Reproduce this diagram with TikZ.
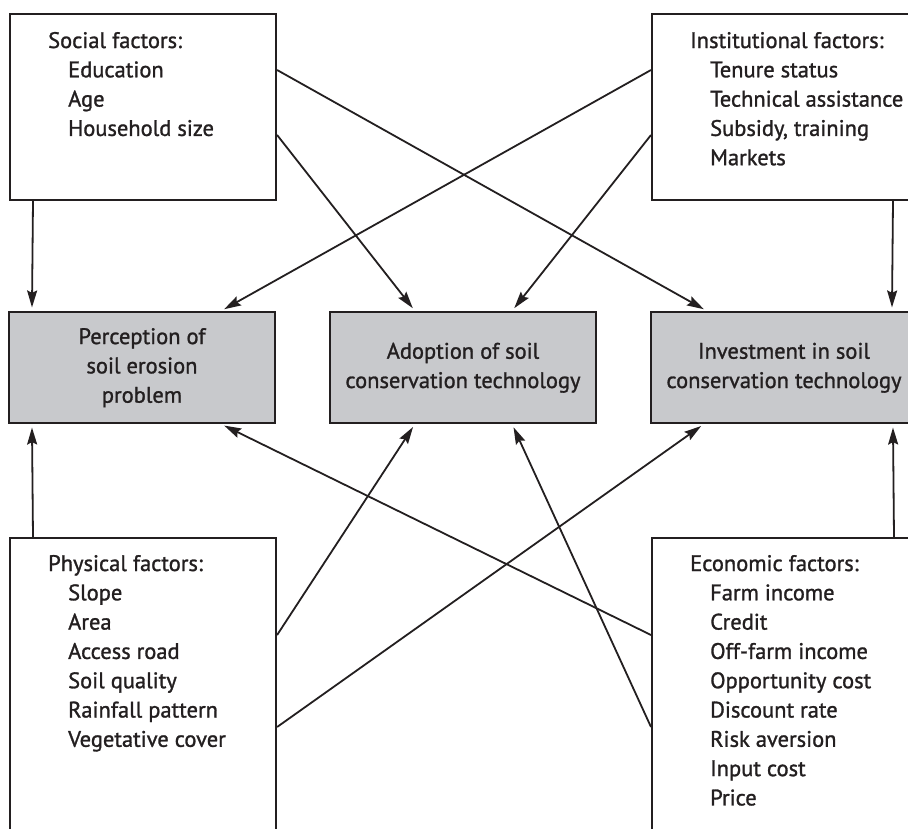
\documentclass[tikz,border=0pt]{standalone}
\usepackage{fontspec}
\setmainfont{PT Sans}[FakeBold=1.2]
\usetikzlibrary{arrows.meta,calc}
\definecolor{boxgray}{RGB}{200,201,204}
\definecolor{ink}{RGB}{35,31,32}
\newlength\calw
\begin{document}
\settowidth\calw{\fontsize{10}{12}\selectfont conservation technology}%
\pgfmathsetmacro\fsz{10*235/\calw}%
\begin{tikzpicture}[x=1pt,y=-1pt]
\tikzset{
  txt/.style={font=\fontsize{\fsz}{29.3}\selectfont, inner sep=0pt, text=ink},
  fbox/.style={draw=ink, line width=2.1pt, anchor=north west, minimum width=266pt, inner sep=0pt},
  gbox/.style={fbox, fill=boxgray, minimum height=111pt, txt, anchor=center},
  arr/.style={draw=ink, line width=1.8pt, -{Stealth[length=17pt,width=10pt,inset=2.5pt]}, shorten >=3.5pt},
}
\useasboundingbox (0,0) rectangle (908,828);
\clip (0,0) rectangle (908,828);
\fill[white] (0,0) rectangle (908,828);
% factor boxes
\node[fbox, minimum height=186pt] (soc) at (9,13) {};
\node[fbox, minimum height=186pt] (inst) at (651,13) {};
\node[fbox, minimum height=300pt] (phys) at (9,537) {};
\node[fbox, minimum height=300pt] (econ) at (651,537) {};
% factor texts
\node[txt, anchor=base west] (soct) at (48,48) {\begin{tabular}[t]{@{}l@{}}Social factors:\\\hspace*{20pt}Education\\\hspace*{20pt}Age\\\hspace*{20pt}Household size\end{tabular}};
\node[txt, anchor=base west] (instt) at (690,48) {\begin{tabular}[t]{@{}l@{}}Institutional factors:\\\hspace*{20pt}Tenure status\\\hspace*{20pt}Technical assistance\\\hspace*{20pt}Subsidy, training\\\hspace*{20pt}Markets\end{tabular}};
\node[txt, anchor=base west] (physt) at (48,571) {\begin{tabular}[t]{@{}l@{}}Physical factors:\\\hspace*{20pt}Slope\\\hspace*{20pt}Area\\\hspace*{20pt}Access road\\\hspace*{20pt}Soil quality\\\hspace*{20pt}Rainfall pattern\\\hspace*{20pt}Vegetative cover\end{tabular}};
\node[txt, anchor=base west] (econt) at (690,571) {\begin{tabular}[t]{@{}l@{}}Economic factors:\\\hspace*{20pt}Farm income\\\hspace*{20pt}Credit\\\hspace*{20pt}Off-farm income\\\hspace*{20pt}Opportunity cost\\\hspace*{20pt}Discount rate\\\hspace*{20pt}Risk aversion\\\hspace*{20pt}Input cost\\\hspace*{20pt}Price\end{tabular}};
% outcome boxes
\node[gbox] (perc) at (142,367.5) {\begin{tabular}{@{}c@{}}Perception of\\soil erosion\\problem\end{tabular}};
\node[gbox] (adop) at (463,367.5) {\begin{tabular}{@{}c@{}}Adoption of soil\\conservation technology\end{tabular}};
\node[gbox] (inv) at (784,367.5) {\begin{tabular}{@{}c@{}}Investment in soil\\conservation technology\end{tabular}};
% connectors from top
\draw[arr] ($(soc.south west)+(24,0)$) -- ($(perc.north west)+(24,0)$);
\draw[arr] ($(soc.north east)+(0,122)$) -- ($(adop.north west)+(86,0)$);
\draw[arr] ($(soc.north east)+(0,57)$) -- ($(inv.north west)+(57,0)$);
\draw[arr] ($(inst.north west)+(0,57)$) -- ($(perc.north east)+(-55,0)$);
\draw[arr] ($(inst.north west)+(0,122)$) -- ($(adop.north east)+(-85,0)$);
\draw[arr] ($(inst.south west)+(242,0)$) -- ($(inv.north west)+(242,0)$);
% connectors from bottom
\draw[arr] ($(phys.north west)+(24,0)$) -- ($(perc.south west)+(24,0)$);
\draw[arr] ($(phys.north east)+(0,98)$) -- ($(adop.south west)+(86,0)$);
\draw[arr] ($(phys.north east)+(0,190)$) -- ($(inv.south west)+(54,0)$);
\draw[arr] ($(econ.north west)+(0,98)$) -- ($(perc.south east)+(-55,0)$);
\draw[arr] ($(econ.north west)+(0,190)$) -- ($(adop.south east)+(-85,0)$);
\draw[arr] ($(econ.north west)+(243,0)$) -- ($(inv.south west)+(243,0)$);
\end{tikzpicture}
\end{document}
